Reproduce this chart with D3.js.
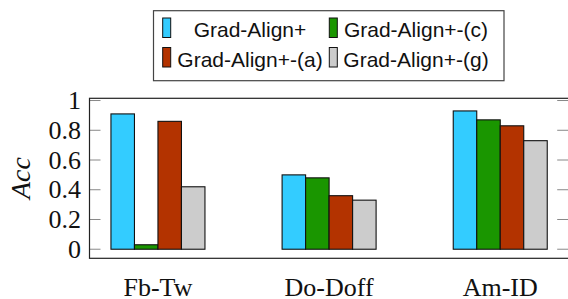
<!DOCTYPE html>
<html>
<head>
<meta charset="utf-8">
<script src="https://cdn.jsdelivr.net/npm/d3@7"></script>
<style>
  body { margin: 0; background: #fff; }
  svg { display: block; }
</style>
</head>
<body>
<svg width="568" height="299"></svg>
<script>
"use strict";

// data
var categories = ["Fb-Tw", "Do-Doff", "Am-ID"];
var series = ["Grad-Align+", "Grad-Align+-(c)", "Grad-Align+-(a)", "Grad-Align+-(g)"];
var colors = ["#33ccff", "#1a9600", "#b33300", "#cccccc"];
var values = [
  [0.91, 0.50, 0.93],   // Grad-Align+
  [0.03, 0.48, 0.87],   // Grad-Align+-(c)
  [0.86, 0.36, 0.83],   // Grad-Align+-(a)
  [0.42, 0.33, 0.73]    // Grad-Align+-(g)
];
var yTicks = [0, 0.2, 0.4, 0.6, 0.8, 1];
// legend order as drawn: row by row
var legendOrder = [0, 1, 2, 3];

var SERIF = "Liberation Serif";
var SANS = "Liberation Sans";

var svg = d3.select("svg");

var box = { left: 89.5, right: 568.7, top: 98.3, bottom: 258.3 };

var y = d3.scaleLinear()
  .domain([-0.061, 1.015])
  .range([box.bottom, box.top]);

var x = d3.scalePoint()
  .domain(categories)
  .range([box.left, box.right])
  .padding(0.4);

var barW = 23.5;
var xs = d3.scaleBand()
  .domain(series)
  .range([-2 * barW, 2 * barW]);

// bars
var groups = svg.append("g")
  .attr("class", "bars")
  .selectAll("g")
  .data(series)
  .enter().append("g")
  .attr("fill", function (d, i) { return colors[i]; });

groups.selectAll("rect")
  .data(function (s, i) {
    return categories.map(function (c, j) { return { s: s, c: c, v: values[i][j] }; });
  })
  .enter().append("rect")
  .attr("x", function (d) { return x(d.c) + xs(d.s); })
  .attr("width", xs.bandwidth())
  .attr("y", function (d) { return y(d.v); })
  .attr("height", function (d) { return y(0) - y(d.v); })
  .attr("stroke", "#111")
  .attr("stroke-width", 1.1);

// ticks inside box, both sides
var ticks = svg.append("g").attr("class", "ticks");
ticks.selectAll("line.l")
  .data(yTicks)
  .enter().append("line")
  .attr("x1", box.left).attr("x2", box.left + 11)
  .attr("y1", function (d) { return y(d); })
  .attr("y2", function (d) { return y(d); })
  .attr("stroke", "#888").attr("stroke-width", 1);
ticks.selectAll("line.r")
  .data(yTicks)
  .enter().append("line")
  .attr("x1", box.right - 11.5).attr("x2", box.right)
  .attr("y1", function (d) { return y(d); })
  .attr("y2", function (d) { return y(d); })
  .attr("stroke", "#888").attr("stroke-width", 1);

// axis box
svg.append("rect")
  .attr("x", box.left).attr("y", box.top)
  .attr("width", box.right - box.left)
  .attr("height", box.bottom - box.top)
  .attr("fill", "none")
  .attr("stroke", "#222")
  .attr("stroke-width", 1.2);

// tick labels
svg.append("g")
  .selectAll("text")
  .data(yTicks)
  .enter().append("text")
  .attr("x", 81)
  .attr("y", function (d) { return y(d) + 8.5; })
  .attr("text-anchor", "end")
  .style("font-family", SERIF)
  .style("font-size", "26px")
  .attr("fill", "#111")
  .text(function (d) { return d3.format("")(d); });

svg.append("g")
  .selectAll("text")
  .data(categories)
  .enter().append("text")
  .attr("x", function (d) { return x(d); })
  .attr("y", 296)
  .attr("text-anchor", "middle")
  .style("font-family", SERIF)
  .style("font-size", "26px")
  .attr("fill", "#111")
  .text(function (d) { return d; });

// y axis label
svg.append("text")
  .attr("transform", "translate(30,178) rotate(-90)")
  .attr("text-anchor", "middle")
  .style("font-family", SERIF)
  .style("font-style", "italic")
  .style("font-size", "28px")
  .attr("fill", "#111")
  .text("Acc");

// legend
var legend = svg.append("g").attr("class", "legend");
legend.append("rect")
  .attr("x", 153.5).attr("y", 10.7)
  .attr("width", 350.5).attr("height", 70)
  .attr("fill", "#fff")
  .attr("stroke", "#444")
  .attr("stroke-width", 1.2);

var swatchX = [162.7, 329.3];
var textX = [250, 416];
var rowY = [18, 47.5];

var item = legend.selectAll("g.item")
  .data(legendOrder)
  .enter().append("g")
  .attr("class", "item");

item.append("rect")
  .attr("x", function (d, k) { return swatchX[k % 2]; })
  .attr("y", function (d, k) { return rowY[Math.floor(k / 2)]; })
  .attr("width", 8)
  .attr("height", 19.5)
  .attr("fill", function (d) { return colors[d]; })
  .attr("stroke", "#111")
  .attr("stroke-width", 1);

item.append("text")
  .attr("x", function (d, k) { return textX[k % 2]; })
  .attr("y", function (d, k) { return rowY[Math.floor(k / 2)] + 19.3; })
  .attr("text-anchor", "middle")
  .style("font-family", SANS)
  .style("font-size", "21px")
  .attr("fill", "#111")
  .text(function (d) { return series[d]; });
</script>
</body>
</html>
